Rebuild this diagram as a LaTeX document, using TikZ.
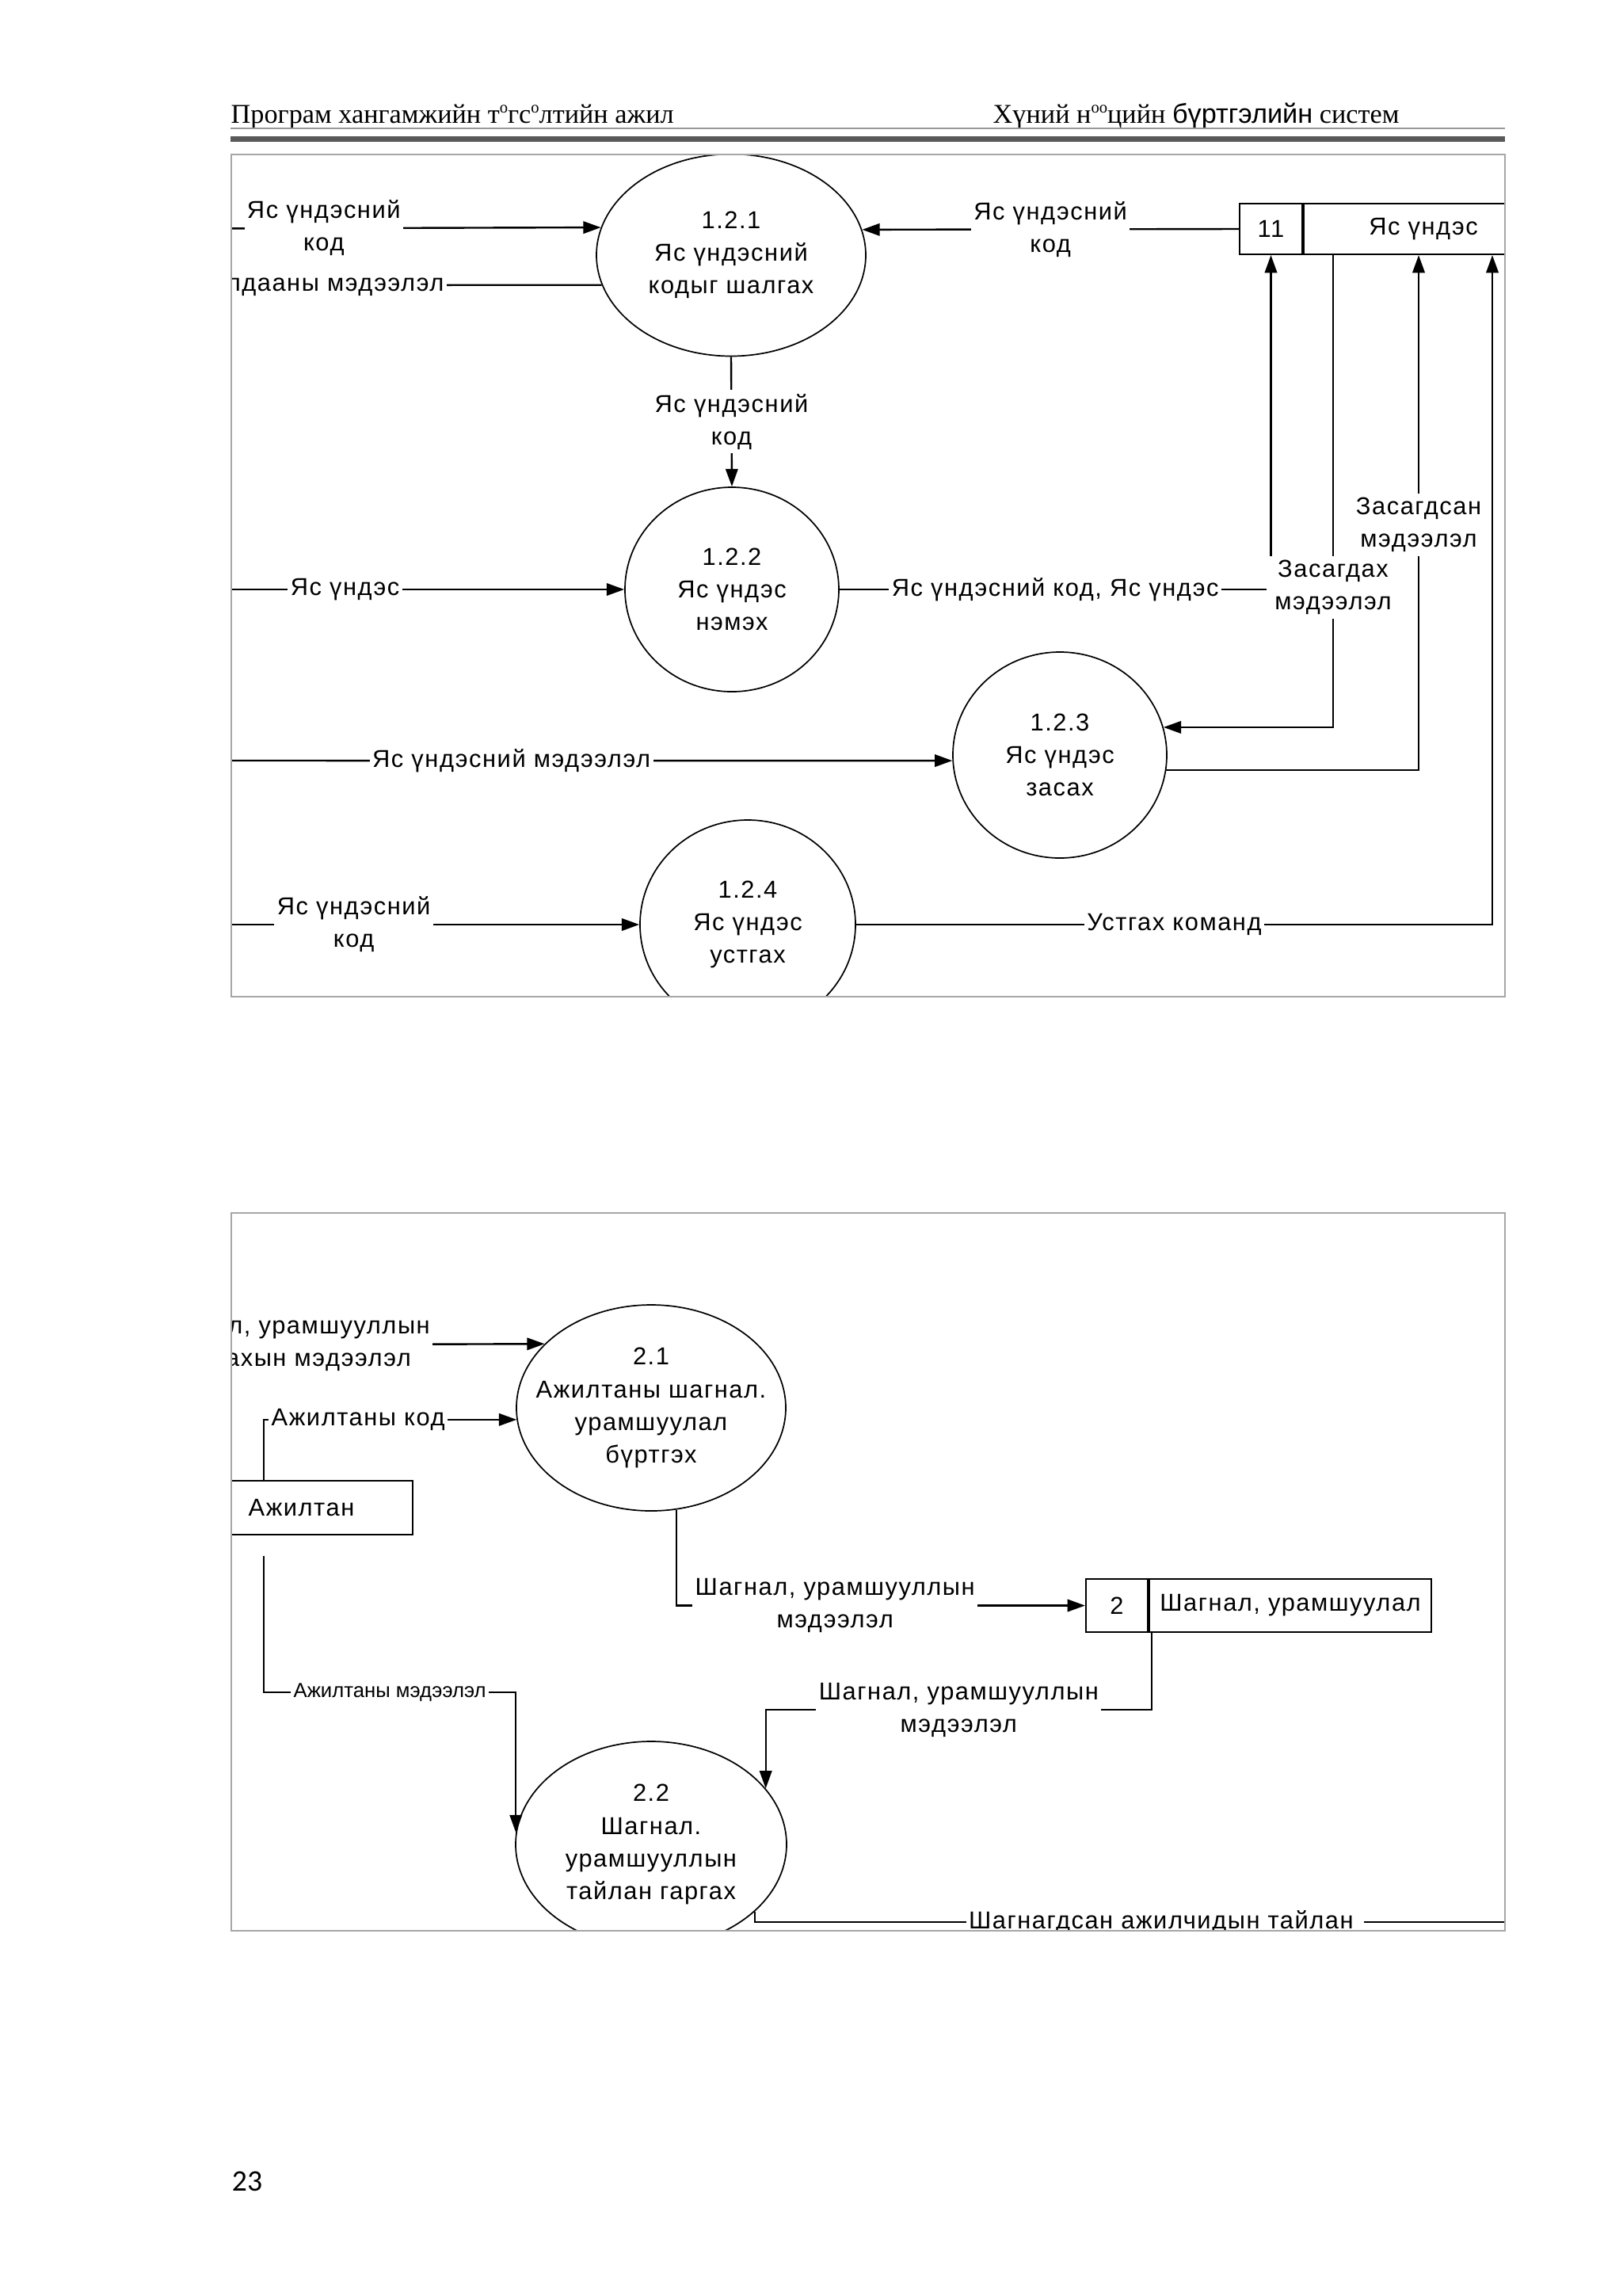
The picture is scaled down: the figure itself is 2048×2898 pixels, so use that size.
\documentclass[tikz,border=0pt]{standalone}
\usepackage{fontspec}
\setmainfont{Liberation Serif}
\newfontfamily\dfdfont[LetterSpace=5]{Liberation Sans}
\newfontfamily\dfdnarrow{Liberation Sans}
\newfontfamily\hdrsans{Liberation Sans}
\newfontfamily\pagefont{Carlito}
\usetikzlibrary{positioning,shapes.geometric,arrows.meta,calc}

\newcommand{\ux}{0.29175pt}
\newcommand{\dfdsize}{\dfdfont\fontsize{9}{12}\selectfont}
\newcommand{\smallo}{\raisebox{0.8ex}{\fontsize{6}{6}\selectfont o}}

\tikzset{
  process/.style 2 args={ellipse, draw, line width=0.5pt, fill=white, inner sep=0pt,
    minimum width={#1*\ux}, minimum height={#2*\ux}},
  proctext/.style={align=center, inner sep=0pt, font=\dfdsize},
  storecell/.style 2 args={rectangle, draw, line width=0.6pt, fill=white, inner sep=0pt,
    minimum width={#1*\ux}, minimum height={#2*\ux}, font=\dfdsize},
  entity/.style 2 args={rectangle, draw, line width=0.6pt, fill=white, inner sep=0pt,
    minimum width={#1*\ux}, minimum height={#2*\ux}, font=\dfdsize},
  flow/.style={draw, line width=0.7pt, -{Triangle[length=6.5pt,width=4.5pt]}},
  flowlabel/.style={fill=white, align=center, inner xsep=1pt, inner ysep=1.5pt, font=\dfdsize},
  smalllabel/.style={fill=white, inner xsep=1pt, inner ysep=1pt,
    font=\dfdnarrow\fontsize{7.5}{9}\selectfont},
  frame/.style={draw=black!35, line width=0.45pt},
}

\begin{document}
\begin{tikzpicture}[x=0.29175pt, y=-0.29175pt]
\useasboundingbox (0,0) rectangle (2048,2898);

% page header
\node[anchor=base west, inner sep=0pt, font=\fontsize{10}{12}\selectfont] (hdrleft) at (291,155)
  {Програм хангамжийн т\smallo гс\smallo лтийн ажил};
\node[anchor=base west, inner sep=0pt, font=\fontsize{10}{12}\selectfont] (hdrright) at (1253,155)
  {Хүний н\smallo\smallo цийн {\hdrsans бүртгэлийн} систем};
\draw[black!40, line width=0.45pt] (291,162) -- (1900,162);
\fill[black!65] (291,171.7) rectangle (1900,179.3);

% ---------------- diagram 1.2 ----------------
\begin{scope}
\clip (292,195) rectangle (1900,1258);

% processes
\node[process={340}{255}, label={[proctext]center:{1.2.1\\Яс үндэсний\\кодыг шалгах}}] (p121) at (923,322) {};
\node[process={270}{258}, label={[proctext]center:{1.2.2\\Яс үндэс\\нэмэх}}] (p122) at (924,744) {};
\node[process={270}{260}, label={[proctext]center:{1.2.3\\Яс үндэс\\засах}}] (p123) at (1338,953) {};
\node[process={272}{264}, label={[proctext]center:{1.2.4\\Яс үндэс\\устгах}}] (p124) at (944,1167) {};

% data store
\node[storecell={79}{64}] (s11) at (1604.5,289) {11};
\node[storecell={302}{64}, right=0pt of s11] (s11n) {Яс үндэс};
\coordinate (s11a) at ($(s11n.south west)+(38,0)$);
\coordinate (s11b) at ($(s11n.south west)+(146,0)$);
\coordinate (s11c) at ($(s11n.south west)+(239,0)$);

% free ends outside the frame
\coordinate (e1) at (59,289);
\coordinate (e2) at (100,360);
\coordinate (e5) at (83,744);
\coordinate (e10) at (89,960);
\coordinate (e11) at (86,1167);

% flows
\draw[flow] (e1) -- node[flowlabel] {Яс үндэсний\\код} (p121.168.6);
\draw[flow] (p121.193.2) -- node[flowlabel, anchor=east, pos=0.295] {Алдааны мэдээлэл} (e2);
\draw[flow] (s11.west) -- node[flowlabel] {Яс үндэсний\\код} (p121.11.4);
\draw[flow] (p121.south) -- node[flowlabel] {Яс үндэсний\\код} (p122.north);
\draw[flow] (e5) -- node[flowlabel] {Яс үндэс} (p122.west);
\draw[flow] (p122.east) -| node[flowlabel, pos=0.25] {Яс үндэсний код, Яс үндэс} (s11.south);
\draw[flow] (s11a) |- node[flowlabel, inner xsep=3pt, pos=0.352] {Засагдах\\мэдээлэл} (p123.15.07);
\draw[flow] (p123.352.76) -| node[flowlabel, pos=0.738] {Засагдсан\\мэдээлэл} (s11b);
\draw[flow] (p124.east) -| node[flowlabel, pos=0.25] {Устгах команд} (s11c);
\draw[flow] (e10) -- node[flowlabel] {Яс үндэсний мэдээлэл} (p123.183);
\draw[flow] (e11) -- node[flowlabel] {Яс үндэсний\\код} (p124.west);
\end{scope}
\draw[frame] (292,195) rectangle (1900,1258);

% ---------------- diagram 2 ----------------
\begin{scope}
\clip (292,1531) rectangle (1900,2437);

% processes
\node[process={340}{260}, label={[proctext]center:{2.1\\Ажилтаны шагнал.\\урамшуулал\\бүртгэх}}] (p21) at (822,1777) {};
\node[process={342}{260}, label={[proctext]center:{2.2\\Шагнал.\\урамшууллын\\тайлан гаргах}}] (p22) at (822,2328) {};

% entity and data store
\node[entity={281}{68}] (emp) at (380.5,1903) {Ажилтан};
\node[storecell={78}{67}] (s2) at (1410,2026.5) {2};
\node[storecell={356}{67}, right=0pt of s2] (s2n) {Шагнал, урамшуулал};
\coordinate (empa) at ($(emp.north west)+(94,0)$);
\coordinate (empb) at ($(emp.south west)+(94,26)$);
\coordinate (s2a) at ($(s2n.south west)+(4,0)$);

% free ends outside the frame
\coordinate (f1) at (100,1698);
\coordinate (g6) at (2000,2426);

% flows
\draw[flow] (f1) -- node[flowlabel, anchor=east, pos=0.7615] {Шагнал, урамшууллын\\тараахын мэдээлэл} (p21.149.7);
\draw[flow] (empa) |- node[flowlabel, anchor=west, pos=0.508] {Ажилтаны код} (p21.185.4);
\draw[flow] (p21.284.5) |- node[flowlabel, pos=0.694] {Шагнал, урамшууллын\\мэдээлэл} (s2.west);
\draw[flow] (s2a) -- ++(0,97) -| node[flowlabel, pos=0.25] {Шагнал, урамшууллын\\мэдээлэл} (p22.26.5);
\draw[flow] (empb) -- ++(0,172) -| node[smalllabel, pos=0.25] {Ажилтаны мэдээлэл} (p22.175.6);
\draw[flow] (p22.327) |- node[flowlabel, pos=0.745, xshift=1.5pt] {Шагнагдсан ажилчидын тайлан\hspace{3pt}} (g6);
\end{scope}
\draw[frame] (292,1531) rectangle (1900,2437);

% page number
\node[inner sep=0pt, font=\pagefont\fontsize{11}{13}\selectfont] (pagenum) at (312,2753) {23};

\end{tikzpicture}
\end{document}
